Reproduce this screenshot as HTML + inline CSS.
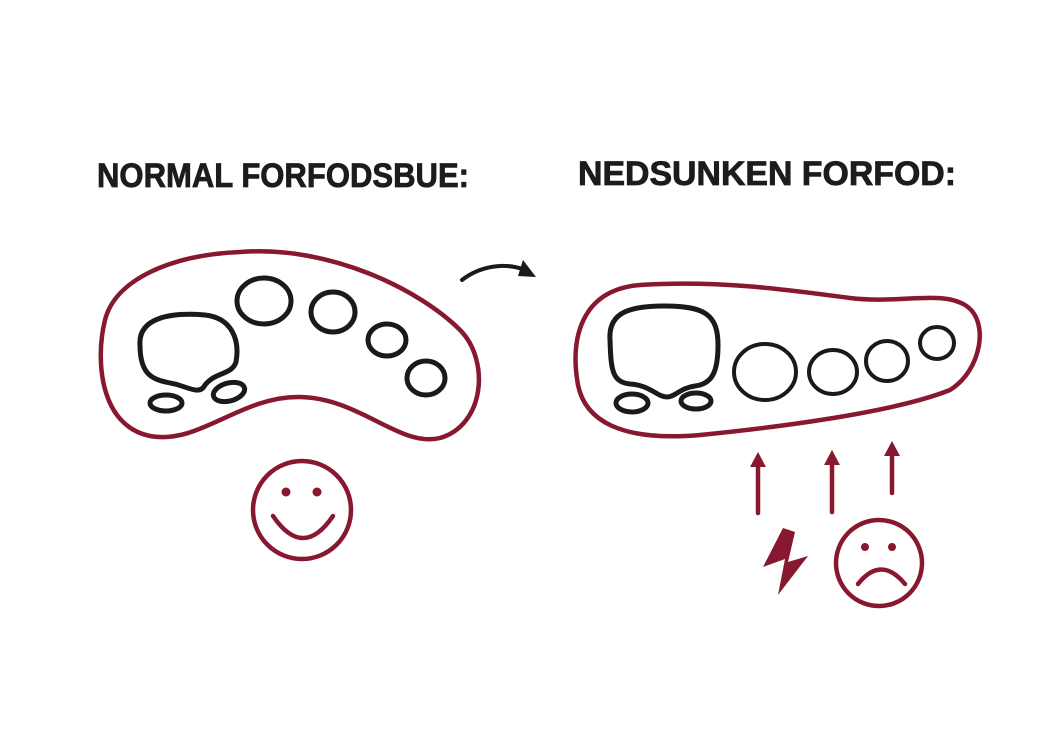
<!DOCTYPE html>
<html><head><meta charset="utf-8"><style>
html,body{margin:0;padding:0;background:#fff;}
svg{display:block;}
</style></head><body>
<svg width="1040" height="735" viewBox="0 0 1040 735" xmlns="http://www.w3.org/2000/svg">
<rect width="1040" height="735" fill="#fff"/>
<g font-family="Liberation Sans, sans-serif" font-size="34" font-weight="bold" fill="#1c1c1c" stroke="#1c1c1c" stroke-width="0.8">
<text x="97" y="187" textLength="372" lengthAdjust="spacingAndGlyphs">NORMAL FORFODSBUE:</text>
<text x="578" y="185" textLength="378" lengthAdjust="spacingAndGlyphs">NEDSUNKEN FORFOD:</text>
</g>
<g fill="none" stroke="#87182f" stroke-width="4.5" stroke-linecap="round" stroke-linejoin="round">
<path d="M240,252 C330,245 420,290 460,330 C490,360 485,425 440,438 C400,448 360,398 300,397 C240,396 200,445 150,436 C100,426 95,360 105,320 C115,280 170,255 240,252 Z"/>
<circle cx="302" cy="510" r="49"/>
<path d="M273,516 Q303,560 333,516"/>
<path d="M640,285 C720,280 790,290 850,298 C900,304 940,290 965,305 C990,320 982,370 950,390 C900,410 800,425 700,435 C620,442 585,420 578,385 C570,340 580,290 640,285 Z"/>
<circle cx="879" cy="563" r="43"/>
<path d="M858,584 Q881,555 905,584"/>
<line x1="758" y1="513" x2="758" y2="460"/>
<line x1="832" y1="512" x2="832" y2="458"/>
<line x1="892" y1="493" x2="892" y2="448"/>
</g>
<g fill="#87182f">
<circle cx="286" cy="492" r="4.5"/><circle cx="317" cy="492" r="4.5"/>
<circle cx="865" cy="547" r="4"/><circle cx="892" cy="547" r="4"/>
<path d="M758,452 L750,467 L766,467 Z"/>
<path d="M832,450 L824,465 L840,465 Z"/>
<path d="M892,441 L884,456 L900,456 Z"/>
<path d="M783,528 L763,567 L785,559 L778,595 L808,556 L788,562 L795,532 Z"/>
</g>
<g fill="none" stroke="#1a1a1a" stroke-width="5" stroke-linecap="round" stroke-linejoin="round">
<path d="M140,345 C138,318 170,312 205,315 C232,318 240,340 236,362 C232,375 215,372 205,385 C200,395 190,388 175,384 C155,380 140,378 140,345 Z"/>
<ellipse cx="264" cy="301" rx="27" ry="23"/>
<ellipse cx="333" cy="312" rx="22" ry="20"/>
<ellipse cx="387" cy="340" rx="19" ry="16"/>
<ellipse cx="426" cy="378" rx="19" ry="17"/>
<ellipse cx="166" cy="403" rx="16" ry="8"/>
<ellipse cx="229" cy="392" rx="16" ry="9" transform="rotate(-15 229 392)"/>
<path d="M610,340 C608,312 630,306 665,306 C705,306 718,315 718,345 C718,372 712,384 695,386 C680,388 675,397 667,397 C657,397 650,385 630,384 C612,382 611,370 610,340 Z"/>
<ellipse cx="632" cy="403" rx="16" ry="9"/>
<ellipse cx="696" cy="401" rx="15" ry="8"/>
</g>
<g fill="none" stroke="#1a1a1a" stroke-width="4" stroke-linecap="round">
<ellipse cx="765" cy="372" rx="31" ry="28"/>
<ellipse cx="833" cy="372" rx="24" ry="22"/>
<ellipse cx="887" cy="361" rx="21" ry="20"/>
<ellipse cx="937" cy="343" rx="17" ry="16"/>
<path d="M462,280 C480,266 505,262 525,270"/>
</g>
<path d="M523,260 L536,277 L518,276 Z" fill="#1a1a1a"/>
</svg>
</body></html>
